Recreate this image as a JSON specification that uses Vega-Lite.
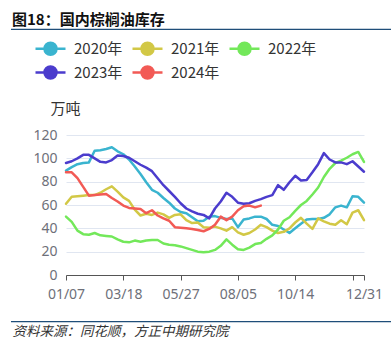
{
  "$schema": "https://vega.github.io/schema/vega-lite/v6.json",
  "width": 298,
  "height": 140,
  "autosize": {"type": "none"},
  "padding": {"left": 66, "top": 135, "right": 27, "bottom": 72},
  "background": "white",
  "config": {"view": {"stroke": null}, "font": "Noto Sans CJK SC"},
  "title": {"text": "图18：国内棕榈油库存", "anchor": "start", "frame": "group", "dx": -54, "offset": -14, "fontSize": 15, "fontWeight": "bold", "color": "#111111", "font": "Noto Sans CJK SC", "baseline": "bottom"},
  "layer": [
    {
      "data": {"values": [
        {"s":"2020年","w":0,"v":89.5},{"s":"2020年","w":1,"v":92.5},{"s":"2020年","w":2,"v":95},{"s":"2020年","w":3,"v":96},{"s":"2020年","w":4,"v":96.5},{"s":"2020年","w":5,"v":106.5},{"s":"2020年","w":6,"v":107},{"s":"2020年","w":7,"v":108},{"s":"2020年","w":8,"v":109.5},{"s":"2020年","w":9,"v":106},
        {"s":"2020年","w":10,"v":103.5},{"s":"2020年","w":11,"v":99},{"s":"2020年","w":12,"v":93},{"s":"2020年","w":13,"v":86.5},{"s":"2020年","w":14,"v":79.5},{"s":"2020年","w":15,"v":73},{"s":"2020年","w":16,"v":70.5},{"s":"2020年","w":17,"v":66},{"s":"2020年","w":18,"v":62},{"s":"2020年","w":19,"v":57},
        {"s":"2020年","w":20,"v":54},{"s":"2020年","w":21,"v":53},{"s":"2020年","w":22,"v":49.5},{"s":"2020年","w":23,"v":46},{"s":"2020年","w":24,"v":46.5},{"s":"2020年","w":25,"v":50},{"s":"2020年","w":26,"v":50.5},{"s":"2020年","w":27,"v":49},{"s":"2020年","w":28,"v":48},{"s":"2020年","w":29,"v":48.5},
        {"s":"2020年","w":30,"v":41},{"s":"2020年","w":31,"v":47.5},{"s":"2020年","w":32,"v":48.5},{"s":"2020年","w":33,"v":50},{"s":"2020年","w":34,"v":50},{"s":"2020年","w":35,"v":48},{"s":"2020年","w":36,"v":43},{"s":"2020年","w":37,"v":42},{"s":"2020年","w":38,"v":39},{"s":"2020年","w":39,"v":36},
        {"s":"2020年","w":40,"v":40},{"s":"2020年","w":41,"v":44},{"s":"2020年","w":42,"v":47.5},{"s":"2020年","w":43,"v":48},{"s":"2020年","w":44,"v":48},{"s":"2020年","w":45,"v":49},{"s":"2020年","w":46,"v":52},{"s":"2020年","w":47,"v":58},{"s":"2020年","w":48,"v":59.5},{"s":"2020年","w":49,"v":58},
        {"s":"2020年","w":50,"v":67.5},{"s":"2020年","w":51,"v":67},{"s":"2020年","w":52,"v":62},
        {"s":"2021年","w":0,"v":61},{"s":"2021年","w":1,"v":67},{"s":"2021年","w":2,"v":67.5},{"s":"2021年","w":3,"v":68},{"s":"2021年","w":4,"v":68.5},{"s":"2021年","w":5,"v":68.5},{"s":"2021年","w":6,"v":70.5},{"s":"2021年","w":7,"v":73.5},{"s":"2021年","w":8,"v":76},{"s":"2021年","w":9,"v":71.5},
        {"s":"2021年","w":10,"v":66.5},{"s":"2021年","w":11,"v":63.5},{"s":"2021年","w":12,"v":56},{"s":"2021年","w":13,"v":51},{"s":"2021年","w":14,"v":52.5},{"s":"2021年","w":15,"v":51.5},{"s":"2021年","w":16,"v":53.5},{"s":"2021年","w":17,"v":52},{"s":"2021年","w":18,"v":49},{"s":"2021年","w":19,"v":51.5},
        {"s":"2021年","w":20,"v":52},{"s":"2021年","w":21,"v":47},{"s":"2021年","w":22,"v":44.5},{"s":"2021年","w":23,"v":45},{"s":"2021年","w":24,"v":41},{"s":"2021年","w":25,"v":40.5},{"s":"2021年","w":26,"v":41.5},{"s":"2021年","w":27,"v":40},{"s":"2021年","w":28,"v":38},{"s":"2021年","w":29,"v":41},
        {"s":"2021年","w":30,"v":36.5},{"s":"2021年","w":31,"v":34.5},{"s":"2021年","w":32,"v":36},{"s":"2021年","w":33,"v":39},{"s":"2021年","w":34,"v":43},{"s":"2021年","w":35,"v":41},{"s":"2021年","w":36,"v":38},{"s":"2021年","w":37,"v":36},{"s":"2021年","w":38,"v":37},{"s":"2021年","w":39,"v":40},
        {"s":"2021年","w":40,"v":45},{"s":"2021年","w":41,"v":49},{"s":"2021年","w":42,"v":44},{"s":"2021年","w":43,"v":39.5},{"s":"2021年","w":44,"v":48.5},{"s":"2021年","w":45,"v":46},{"s":"2021年","w":46,"v":44},{"s":"2021年","w":47,"v":43},{"s":"2021年","w":48,"v":47},{"s":"2021年","w":49,"v":43.5},
        {"s":"2021年","w":50,"v":53.5},{"s":"2021年","w":51,"v":55.5},{"s":"2021年","w":52,"v":47},
        {"s":"2022年","w":0,"v":50},{"s":"2022年","w":1,"v":45.5},{"s":"2022年","w":2,"v":38},{"s":"2022年","w":3,"v":35},{"s":"2022年","w":4,"v":34.5},{"s":"2022年","w":5,"v":36},{"s":"2022年","w":6,"v":34},{"s":"2022年","w":7,"v":33.5},{"s":"2022年","w":8,"v":33},{"s":"2022年","w":9,"v":30.5},
        {"s":"2022年","w":10,"v":28.5},{"s":"2022年","w":11,"v":28},{"s":"2022年","w":12,"v":29.5},{"s":"2022年","w":13,"v":28.5},{"s":"2022年","w":14,"v":29.5},{"s":"2022年","w":15,"v":30},{"s":"2022年","w":16,"v":30},{"s":"2022年","w":17,"v":27},{"s":"2022年","w":18,"v":26},{"s":"2022年","w":19,"v":25.5},
        {"s":"2022年","w":20,"v":24.5},{"s":"2022年","w":21,"v":23},{"s":"2022年","w":22,"v":21.5},{"s":"2022年","w":23,"v":20},{"s":"2022年","w":24,"v":19.5},{"s":"2022年","w":25,"v":20},{"s":"2022年","w":26,"v":21.5},{"s":"2022年","w":27,"v":25},{"s":"2022年","w":28,"v":30.5},{"s":"2022年","w":29,"v":26},
        {"s":"2022年","w":30,"v":22},{"s":"2022年","w":31,"v":21.5},{"s":"2022年","w":32,"v":23.5},{"s":"2022年","w":33,"v":26.5},{"s":"2022年","w":34,"v":27.5},{"s":"2022年","w":35,"v":31},{"s":"2022年","w":36,"v":34},{"s":"2022年","w":37,"v":39},{"s":"2022年","w":38,"v":46.5},{"s":"2022年","w":39,"v":49.5},
        {"s":"2022年","w":40,"v":55},{"s":"2022年","w":41,"v":60},{"s":"2022年","w":42,"v":63.5},{"s":"2022年","w":43,"v":69},{"s":"2022年","w":44,"v":75},{"s":"2022年","w":45,"v":84},{"s":"2022年","w":46,"v":91},{"s":"2022年","w":47,"v":96},{"s":"2022年","w":48,"v":98},{"s":"2022年","w":49,"v":100.5},
        {"s":"2022年","w":50,"v":103.5},{"s":"2022年","w":51,"v":105.5},{"s":"2022年","w":52,"v":97},
        {"s":"2023年","w":0,"v":96},{"s":"2023年","w":1,"v":97.5},{"s":"2023年","w":2,"v":100},{"s":"2023年","w":3,"v":103},{"s":"2023年","w":4,"v":103},{"s":"2023年","w":5,"v":100},{"s":"2023年","w":6,"v":97},{"s":"2023年","w":7,"v":96.5},{"s":"2023年","w":8,"v":98.5},{"s":"2023年","w":9,"v":102.5},
        {"s":"2023年","w":10,"v":102},{"s":"2023年","w":11,"v":100.5},{"s":"2023年","w":12,"v":97.5},{"s":"2023年","w":13,"v":94.5},{"s":"2023年","w":14,"v":92},{"s":"2023年","w":15,"v":89},{"s":"2023年","w":16,"v":83},{"s":"2023年","w":17,"v":77},{"s":"2023年","w":18,"v":72},{"s":"2023年","w":19,"v":67},
        {"s":"2023年","w":20,"v":61.5},{"s":"2023年","w":21,"v":57},{"s":"2023年","w":22,"v":54.5},{"s":"2023年","w":23,"v":52.5},{"s":"2023年","w":24,"v":51.5},{"s":"2023年","w":25,"v":48.5},{"s":"2023年","w":26,"v":57},{"s":"2023年","w":27,"v":63},{"s":"2023年","w":28,"v":70.5},{"s":"2023年","w":29,"v":67},
        {"s":"2023年","w":30,"v":62},{"s":"2023年","w":31,"v":61},{"s":"2023年","w":32,"v":61.5},{"s":"2023年","w":33,"v":63.5},{"s":"2023年","w":34,"v":65},{"s":"2023年","w":35,"v":67},{"s":"2023年","w":36,"v":68.5},{"s":"2023年","w":37,"v":77},{"s":"2023年","w":38,"v":73},{"s":"2023年","w":39,"v":79.5},
        {"s":"2023年","w":40,"v":85},{"s":"2023年","w":41,"v":81},{"s":"2023年","w":42,"v":81.5},{"s":"2023年","w":43,"v":88},{"s":"2023年","w":44,"v":95},{"s":"2023年","w":45,"v":104.5},{"s":"2023年","w":46,"v":99},{"s":"2023年","w":47,"v":96.5},{"s":"2023年","w":48,"v":96.5},{"s":"2023年","w":49,"v":95},
        {"s":"2023年","w":50,"v":97.5},{"s":"2023年","w":51,"v":93},{"s":"2023年","w":52,"v":88.5},
        {"s":"2024年","w":0,"v":88},{"s":"2024年","w":1,"v":88},{"s":"2024年","w":2,"v":83},{"s":"2024年","w":3,"v":75.5},{"s":"2024年","w":4,"v":68},{"s":"2024年","w":5,"v":68.5},{"s":"2024年","w":6,"v":69},{"s":"2024年","w":7,"v":69.5},{"s":"2024年","w":8,"v":66},{"s":"2024年","w":9,"v":63},
        {"s":"2024年","w":10,"v":59.5},{"s":"2024年","w":11,"v":57.5},{"s":"2024年","w":12,"v":57},{"s":"2024年","w":13,"v":56.5},{"s":"2024年","w":14,"v":53},{"s":"2024年","w":15,"v":55.5},{"s":"2024年","w":16,"v":51},{"s":"2024年","w":17,"v":48.5},{"s":"2024年","w":18,"v":46.5},{"s":"2024年","w":19,"v":41},
        {"s":"2024年","w":20,"v":40.5},{"s":"2024年","w":21,"v":40},{"s":"2024年","w":22,"v":39.5},{"s":"2024年","w":23,"v":38.5},{"s":"2024年","w":24,"v":37.5},{"s":"2024年","w":25,"v":39.5},{"s":"2024年","w":26,"v":43},{"s":"2024年","w":27,"v":50},{"s":"2024年","w":28,"v":47},{"s":"2024年","w":29,"v":50},
        {"s":"2024年","w":30,"v":55.5},{"s":"2024年","w":31,"v":59},{"s":"2024年","w":32,"v":59.5},{"s":"2024年","w":33,"v":58},{"s":"2024年","w":34,"v":59.5}
      ]},
      "mark": {"type": "line", "strokeWidth": 2.5, "strokeJoin": "round", "strokeCap": "round"},
      "encoding": {
        "x": {"field": "w", "type": "quantitative",
          "scale": {"domain": [0, 52], "nice": false, "zero": false},
          "axis": {"values": [0, 10, 20, 30, 40, 50, 52], "grid": false, "domain": true, "domainColor": "#555555", "domainWidth": 1, "ticks": true, "tickColor": "#555555", "tickSize": 5, "labelFlush": false, "labelOverlap": false,
            "labelExpr": "datum.value == 0 ? '01/07' : datum.value == 10 ? '03/18' : datum.value == 20 ? '05/27' : datum.value == 30 ? '08/05' : datum.value == 40 ? '10/14' : datum.value == 52 ? '12/31' : ''",
            "labelColor": "#6E7079", "labelFont": "Noto Sans", "labelFontSize": 14, "labelPadding": 7,
            "title": "资料来源：同花顺，方正中期研究院", "titleX": -54, "titleY": 56, "titleAlign": "left", "titleBaseline": "middle", "titleAngle": 0, "titleFontStyle": "italic", "titleFontWeight": "normal", "titleFontSize": 13.5, "titleColor": "#333333", "titleFont": "Noto Sans CJK SC"}},
        "y": {"field": "v", "type": "quantitative",
          "scale": {"domain": [0, 120], "nice": false},
          "axis": {"values": [0, 20, 40, 60, 80, 100, 120], "grid": true, "gridColor": "#E0E6F1", "gridWidth": 1, "domain": false, "ticks": false, "labelOverlap": false, "labelColor": "#6E7079", "labelFont": "Noto Sans", "labelFontSize": 14, "labelPadding": 9,
            "title": "万吨", "titleAngle": 0, "titleX": -1, "titleY": -27, "titleAlign": "center", "titleBaseline": "middle", "titleFontWeight": "normal", "titleFontSize": 15, "titleColor": "#333333", "titleFont": "Noto Sans CJK SC"}},
        "color": {"field": "s", "type": "nominal",
          "scale": {"domain": ["2020年", "2021年", "2022年", "2023年", "2024年"], "range": ["#3AB4CF", "#D2C846", "#73E85A", "#4B3CCD", "#F25A55"]},
          "legend": {"title": null, "orient": "none", "legendX": -23, "legendY": -94, "columns": 3, "direction": "horizontal", "padding": 0,
            "symbolType": "M-2.5,0H2.5M1,0A1,1,0,1,1,-1,0A1,1,0,1,1,1,0Z", "symbolSize": 144, "symbolStrokeWidth": 2.5,
            "labelFontSize": 15, "labelColor": "#333333", "labelFont": "Noto Sans CJK SC", "labelOffset": 16, "columnPadding": 4, "rowPadding": 1,
            "encode": {"symbols": {"update": {"fill": {"scale": "color", "field": "value"}, "stroke": {"scale": "color", "field": "value"}, "opacity": {"value": 1}, "fillOpacity": {"value": 1}}}}}}
      }
    },
    {
      "data": {"values": [{"edge": "top"}]},
      "mark": {"type": "rule", "clip": false, "color": "#1F4E79", "strokeWidth": 1.3},
      "encoding": {
        "x": {"datum": -9.6, "type": "quantitative", "scale": {"domain": [0, 52], "nice": false, "zero": false},
          "axis": {"values": [0, 10, 20, 30, 40, 50, 52], "grid": false, "domain": true, "domainColor": "#555555", "domainWidth": 1, "ticks": true, "tickColor": "#555555", "tickSize": 5, "labelFlush": false, "labelOverlap": false,
            "labelExpr": "datum.value == 0 ? '01/07' : datum.value == 10 ? '03/18' : datum.value == 20 ? '05/27' : datum.value == 30 ? '08/05' : datum.value == 40 ? '10/14' : datum.value == 52 ? '12/31' : ''",
            "labelColor": "#6E7079", "labelFont": "Noto Sans", "labelFontSize": 14, "labelPadding": 7,
            "title": "资料来源：同花顺，方正中期研究院", "titleX": -54, "titleY": 56, "titleAlign": "left", "titleBaseline": "middle", "titleAngle": 0, "titleFontStyle": "italic", "titleFontWeight": "normal", "titleFontSize": 13.5, "titleColor": "#333333", "titleFont": "Noto Sans CJK SC"}},
        "x2": {"datum": 56.8},
        "y": {"datum": 210.6, "type": "quantitative", "scale": {"domain": [0, 120], "nice": false},
          "axis": {"values": [0, 20, 40, 60, 80, 100, 120], "grid": true, "gridColor": "#E0E6F1", "gridWidth": 1, "domain": false, "ticks": false, "labelOverlap": false, "labelColor": "#6E7079", "labelFont": "Noto Sans", "labelFontSize": 14, "labelPadding": 9,
            "title": "万吨", "titleAngle": 0, "titleX": -1, "titleY": -27, "titleAlign": "center", "titleBaseline": "middle", "titleFontWeight": "normal", "titleFontSize": 15, "titleColor": "#333333", "titleFont": "Noto Sans CJK SC"}}
      }
    },
    {
      "data": {"values": [{"edge": "bottom"}]},
      "mark": {"type": "rule", "clip": false, "color": "#1F4E79", "strokeWidth": 1.3},
      "encoding": {
        "x": {"datum": -9.6, "type": "quantitative", "scale": {"domain": [0, 52], "nice": false, "zero": false},
          "axis": {"values": [0, 10, 20, 30, 40, 50, 52], "grid": false, "domain": true, "domainColor": "#555555", "domainWidth": 1, "ticks": true, "tickColor": "#555555", "tickSize": 5, "labelFlush": false, "labelOverlap": false,
            "labelExpr": "datum.value == 0 ? '01/07' : datum.value == 10 ? '03/18' : datum.value == 20 ? '05/27' : datum.value == 30 ? '08/05' : datum.value == 40 ? '10/14' : datum.value == 52 ? '12/31' : ''",
            "labelColor": "#6E7079", "labelFont": "Noto Sans", "labelFontSize": 14, "labelPadding": 7,
            "title": "资料来源：同花顺，方正中期研究院", "titleX": -54, "titleY": 56, "titleAlign": "left", "titleBaseline": "middle", "titleAngle": 0, "titleFontStyle": "italic", "titleFontWeight": "normal", "titleFontSize": 13.5, "titleColor": "#333333", "titleFont": "Noto Sans CJK SC"}},
        "x2": {"datum": 56.8},
        "y": {"datum": -40, "type": "quantitative", "scale": {"domain": [0, 120], "nice": false},
          "axis": {"values": [0, 20, 40, 60, 80, 100, 120], "grid": true, "gridColor": "#E0E6F1", "gridWidth": 1, "domain": false, "ticks": false, "labelOverlap": false, "labelColor": "#6E7079", "labelFont": "Noto Sans", "labelFontSize": 14, "labelPadding": 9,
            "title": "万吨", "titleAngle": 0, "titleX": -1, "titleY": -27, "titleAlign": "center", "titleBaseline": "middle", "titleFontWeight": "normal", "titleFontSize": 15, "titleColor": "#333333", "titleFont": "Noto Sans CJK SC"}}
      }
    }
  ]
}
